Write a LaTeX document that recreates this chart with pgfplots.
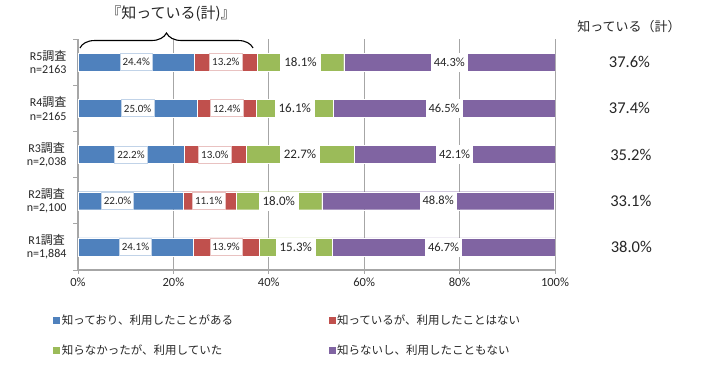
\documentclass[border=0pt]{standalone}
\usepackage{fontspec}
\setmainfont{Carlito}
\newfontfamily\jp{Noto Sans CJK JP}
\usepackage{pgfplots}
\usepackage{pgfplotstable}
\pgfplotsset{compat=1.18}
\usetikzlibrary{decorations.pathreplacing}
\definecolor{cblue}{HTML}{4F81BD}
\definecolor{cred}{HTML}{C0504D}
\definecolor{cgreen}{HTML}{9BBB59}
\definecolor{cpurple}{HTML}{8064A2}
\definecolor{gridgray}{HTML}{A6A6A6}
\definecolor{txt}{HTML}{262626}

\pgfplotstableread{
y blue red green purple
4 24.4 13.2 18.1 44.3
3 25.0 12.4 16.1 46.5
2 22.2 13.0 22.7 42.1
1 22.0 11.1 18.0 48.8
0 24.1 13.9 15.3 46.7
}\datatable

\pgfplotstableread{
y bx rx gx px tx bl rl gl pl tot
4 12.2 31.0 46.65 77.85 115.6 24.4 13.2 18.1 44.3 37.6
3 12.5 31.2 45.45 76.75 115.6 25.0 12.4 16.1 46.5 37.4
2 11.1 28.7 46.55 78.95 115.9 22.2 13.0 22.7 42.1 35.2
1 8.3 27.4 42.1 75.5 115.9 22.0 11.1 18.0 48.8 33.1
0 12.05 31.05 45.65 76.65 116.0 24.1 13.9 15.3 46.7 38.0
}\labels

\pgfplotsset{
  sq/.style={legend image code/.code={\fill[##1, draw=none] (0pt,-3.5pt) rectangle (7pt,3.5pt);}},
  lab/.style={only marks, mark=*, mark size=0.1pt, mark options={draw=white, fill=white}},
}

\begin{document}
\begin{tikzpicture}
\useasboundingbox (0,0) rectangle (713pt,374pt);
\begin{axis}[
  at={(78pt,104pt)}, anchor=south west,
  scale only axis, width=477pt, height=231pt,
  xbar stacked, bar width=18pt,
  xmin=0, xmax=100, ymin=-0.5, ymax=4.5,
  axis x line*=bottom, axis y line*=left,
  axis line style={gridgray, line width=1.2pt},
  xtick={0,20,...,100},
  xticklabel={\pgfmathprintnumber{\tick}\%},
  /pgf/number format/assume math mode=true,
  xticklabel style={font=\fontsize{12.5}{14}\selectfont, text=txt},
  xmajorgrids, major grid style={gridgray, line width=0.9pt},
  tick style={gridgray, line width=0.9pt},
  tick align=outside, major tick length=4pt, minor tick length=5pt,
  ytick={0,...,4},
  yticklabels={{R1{\jp 調査}\\n=1,884},{R2{\jp 調査}\\n=2,100},{R3{\jp 調査}\\n=2,038},{R4{\jp 調査}\\n=2165},{R5{\jp 調査}\\n=2163}},
  yticklabel style={align=center, font=\fontsize{12}{13.5}\selectfont, text=txt, xshift=-4pt},
  every major y tick/.style={draw=none},
  minor ytick={-0.5,0.5,...,4.5},
  legend columns=2,
  legend cell align=left,
  legend style={at={(axis description cs:-0.052,-0.185)}, anchor=north west,
    draw=none, fill=none, inner sep=0pt, row sep=16pt,
    font=\jp\fontsize{11.5}{13}\selectfont, text=txt,
    nodes={inner sep=1.5pt},
    /tikz/column 2/.style={column sep=94pt}},
]
\addplot[fill=cblue, draw=white, line width=0.3pt, sq] table[x=blue, y=y] {\datatable};
\addlegendentry{知っており、利用したことがある}
\addplot[fill=cred, draw=white, line width=0.3pt, sq] table[x=red, y=y] {\datatable};
\addlegendentry{知っているが、利用したことはない}
\addplot[fill=cgreen, draw=white, line width=0.3pt, sq] table[x=green, y=y] {\datatable};
\addlegendentry{知らなかったが、利用していた}
\addplot[fill=cpurple, draw=white, line width=0.3pt, sq] table[x=purple, y=y] {\datatable};
\addlegendentry{知らないし、利用したこともない}
\end{axis}

\begin{axis}[
  at={(78pt,104pt)}, anchor=south west,
  scale only axis, width=477pt, height=231pt,
  xmin=0, xmax=100, ymin=-0.5, ymax=4.5,
  hide axis, clip=false,
  point meta=explicit,
  nodes near coords={\pgfmathprintnumber[fixed,fixed zerofill,precision=1,assume math mode=true]{\pgfplotspointmeta}\%},
]
\addplot[lab, every node near coord/.append style={anchor=center, fill=white, draw=cblue!35, line width=0.6pt, text=txt, font=\fontsize{11}{12}\selectfont, inner xsep=2.5pt, inner ysep=0pt, minimum height=17pt}] table[x=bx, y=y, meta=bl] {\labels};
\addplot[lab, every node near coord/.append style={anchor=center, fill=white, draw=cred!35, line width=0.6pt, text=txt, font=\fontsize{11}{12}\selectfont, inner xsep=2.5pt, inner ysep=0pt, minimum height=17pt}] table[x=rx, y=y, meta=rl] {\labels};
\addplot[lab, every node near coord/.append style={anchor=center, fill=white, draw=none, text=txt, font=\fontsize{13}{14}\selectfont, inner xsep=4pt, inner ysep=0pt, minimum height=18pt}] table[x=gx, y=y, meta=gl] {\labels};
\addplot[lab, every node near coord/.append style={anchor=center, fill=white, draw=none, text=txt, font=\fontsize{12.5}{14}\selectfont, inner xsep=3pt, inner ysep=0pt, minimum height=18pt}] table[x=px, y=y, meta=pl] {\labels};
\addplot[lab, every node near coord/.append style={anchor=center, fill=white, text=txt, font=\fontsize{16.5}{18}\selectfont}] table[x=tx, y=y, meta=tot] {\labels};

\node[font=\jp\fontsize{13}{14}\selectfont, text=txt] at (axis cs:115.5,4.76) {知っている（計）};
\node[font=\jp\fontsize{15}{16}\selectfont, text=txt] at (axis cs:19.5,5.04) {『知っている(計)』};
\draw[decorate, decoration={brace, amplitude=15pt}, line width=1.1pt, black] (axis cs:0.4,4.305) -- (axis cs:36.7,4.305);
\end{axis}
\end{tikzpicture}
\end{document}
